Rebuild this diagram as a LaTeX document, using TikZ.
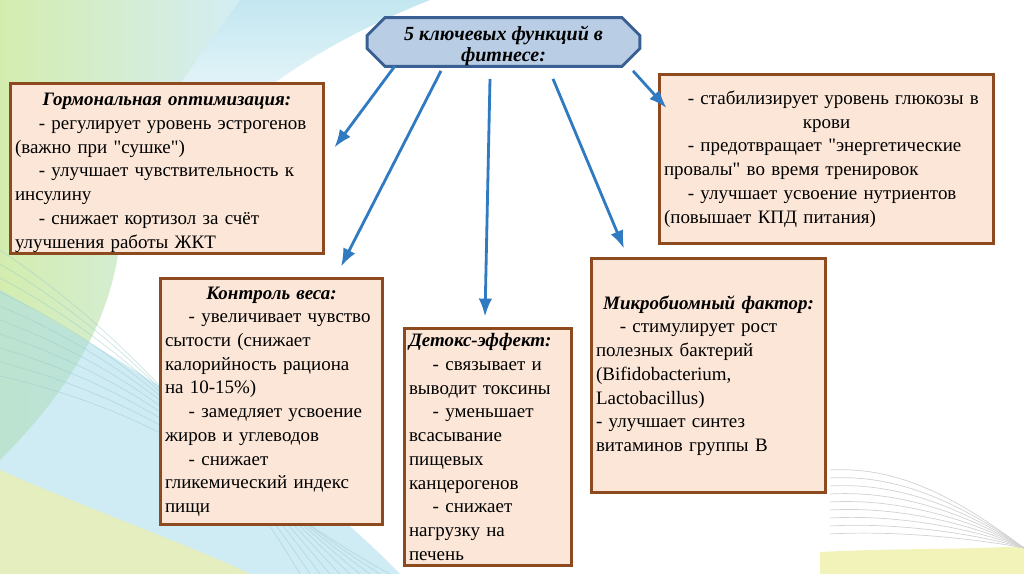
\documentclass[tikz,border=0pt]{standalone}
\usepackage{fontspec}
\setmainfont{Liberation Serif}[Ligatures=TeXOff]
\usetikzlibrary{arrows.meta,shapes.misc,calc}
\definecolor{Sky}{HTML}{B9CDE5}
\definecolor{Navy}{HTML}{3A5F93}
\definecolor{Peach}{HTML}{FBE6D7}
\definecolor{Rust}{HTML}{8C4A1E}
\definecolor{Arrow}{HTML}{2F7AC0}
\definecolor{Lime}{HTML}{C9E89A}
\definecolor{Aqua}{HTML}{A9DCEA}
\definecolor{Straw}{HTML}{EEF0A8}
\newcommand\boxhead[1]{\makebox[\linewidth]{\bfseries\itshape #1}}
\newcommand\ind{\hspace*{1.25em}}

\begin{document}
\begin{tikzpicture}[x=0.02cm,y=-0.02cm,>=Latex,
  every node/.style={font=\rmfamily\fontsize{10.8}{13.5}\selectfont,text=black},
  card/.style={draw=Rust,fill=Peach,line width=1.7pt,align=left,inner xsep=0.1cm,inner ysep=0.1cm},
  link/.style={->,draw=Arrow,line width=1.6pt}]
\useasboundingbox (0,0) rectangle (1024,574);
\fill[white] (0,0) rectangle (1024,574);
% background waves
\shade[top color=Aqua!70,bottom color=white] (0,0)--(430,0) .. controls (330,40) and (250,90) .. (190,160)--(0,160)--cycle;
\shade[left color=Lime!80,right color=Aqua!50] (0,0)--(240,0) .. controls (190,70) and (130,140) .. (120,240) .. controls (110,330) and (60,400) .. (0,460)--cycle;
\fill[Aqua,opacity=.55] (0,290) .. controls (140,370) and (300,470) .. (400,574)--(0,574)--cycle;
\fill[Straw,opacity=.7] (0,470) .. controls (90,510) and (190,545) .. (250,574)--(0,574)--cycle;
\foreach \k in {0,...,9}
  \draw[teal!40,opacity=.5,line width=.4pt] (0,{250+14*\k}) .. controls ({120+8*\k},{330+10*\k}) and ({220+6*\k},{440+8*\k}) .. ({300+10*\k},574);
\fill[Straw,opacity=.8] (820,552) .. controls (900,548) and (960,550) .. (1024,546)--(1024,574)--(820,574)--cycle;
\foreach \k in {0,...,8}
  \draw[gray!35,line width=.4pt] (830,{470+8*\k}) .. controls (900,{466+8*\k}) and ({960+3*\k},{500+5*\k}) .. (1024,548);
% nodes
\node[chamfered rectangle,chamfered rectangle xsep=0.2cm,chamfered rectangle ysep=0.16cm,draw=Navy,fill=Sky,line width=1.7pt,
  minimum width=5.46cm,inner xsep=0pt,inner ysep=-4.3pt,align=center,font=\rmfamily\fontsize{11.4}{12.3}\selectfont\bfseries\itshape]
  (title) at (503.5,42) {\rule{0pt}{1.1em}5 ключевых функций в\\фитнесе:};
\node[card,text width=6.08cm,minimum height=3.38cm,inner ysep=0.02cm] (hormone) at (167,168.5)
  {\rule{0pt}{1.1em}\boxhead{Гормональная оптимизация:}\\
   \ind- регулирует уровень эстрогенов\\
   (важно при "сушке")\\
   \ind- улучшает чувствительность к\\
   инсулину\\
   \ind- снижает кортизол за счёт\\
   улучшения работы ЖКТ};
\node[card,text width=6.5cm,minimum height=3.4cm] (glucose) at (826.5,159)
  {\ind- стабилизирует уровень глюкозы в\\
   \makebox[\linewidth]{крови}\\
   \ind- предотвращает "энергетические\\
   провалы" во время тренировок\\
   \ind- улучшает усвоение нутриентов\\
   (повышает КПД питания)};
\node[card,text width=4.26cm,minimum height=4.94cm] (weight) at (271.5,401.5)
  {\boxhead{Контроль веса:}\\
   \ind- увеличивает чувство\\
   сытости (снижает\\
   калорийность рациона\\
   на 10-15\%)\\
   \ind- замедляет усвоение\\
   жиров и углеводов\\
   \ind- снижает\\
   гликемический индекс\\
   пищи};
\node[card,text width=3.16cm,minimum height=4.76cm] (detox) at (488,447)
  {{\bfseries\itshape Детокс-эффект:}\\
   \ind- связывает и\\
   выводит токсины\\
   \ind- уменьшает\\
   всасывание\\
   пищевых\\
   канцерогенов\\
   \ind- снижает\\
   нагрузку на\\
   печень};
\node[card,text width=4.5cm,minimum height=4.7cm] (microbe) at (708.5,375.5)
  {\boxhead{Микробиомный фактор:}\\
   \ind- стимулирует рост\\
   полезных бактерий\\
   (Bifidobacterium,\\
   Lactobacillus)\\
   - улучшает синтез\\
   витаминов группы В};
% arrows
\draw[link] ($(title.south)+(-108.5,-2)$) -- ($(hormone.east)+(9,-21)$);
\draw[link] ($(title.south)+(-62.5,3)$) -- ($(weight.north)+(69.5,-10)$);
\draw[link] ($(title.south)+(-13.5,11)$) -- ($(detox.north)+(-3,-10)$);
\draw[link] ($(title.south)+(49.5,11)$) -- ($(microbe.north)+(-84.5,-8)$);
\draw[link] ($(title.south)+(129.5,3)$) -- ($(glucose.west)+(9,-51)$);
\end{tikzpicture}
\end{document}
